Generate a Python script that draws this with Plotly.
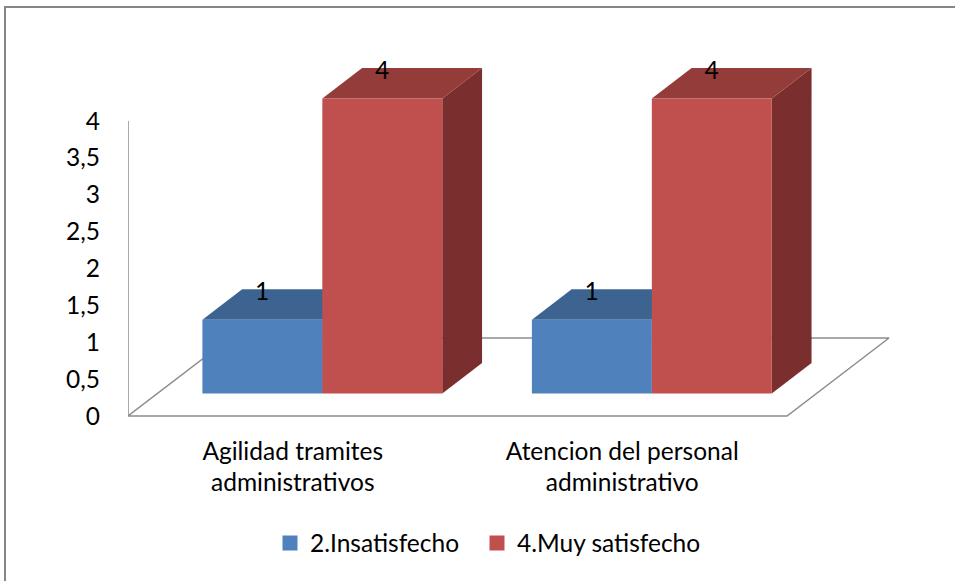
import plotly.graph_objects as go

# ---- data ----
categories = ["Agilidad tramites<br>administrativos", "Atencion del personal<br>administrativo"]
series_names = ["2.Insatisfecho", "4.Muy satisfecho"]
insatisfecho = [1, 1]
muy_satisfecho = [4, 4]
y_tick_vals = [0, 0.5, 1, 1.5, 2, 2.5, 3, 3.5, 4]
y_tick_text = ["0", "0,5", "1", "1,5", "2", "2,5", "3", "3,5", "4"]

series_values = [insatisfecho, muy_satisfecho]
front_colors = ["#4F81BD", "#C0504D"]
top_colors = ["#3D6490", "#943C3A"]
side_colors = ["#3A5F8C", "#7A2F2E"]

# ---- layout / projection constants ----
W, H = 955, 581
ML, MR, MT = 128, 20, 30
PX_X = 329.5                 # px per category unit
PX_Y = 73.75                 # px per value unit
y0_px = 416                  # pixel row of value 0 (floor front edge)
plot_bottom = y0_px + 4
MB = H - plot_bottom
PW = W - ML - MR
PH = H - MT - MB
ymin = -(plot_bottom - y0_px) / PX_Y
ymax = ymin + PH / PX_Y
DX = 102 / PX_X              # floor depth offset (x, category units)
DY = 78 / PX_Y               # floor depth offset (y, value units)
Z0, Z1 = 0.29, 0.68          # bar depth (front/back) as fraction of floor depth
GAP = 0.136
BW = (1 - 2 * GAP) / 2
FONT = "Lato"
FS = 24.5
legend_px = [270, 477]       # left pixel of each legend box
legend_names = ["legend", "legend2"]

fig = go.Figure()
ncat = len(categories)

# floor
fig.add_trace(go.Scatter(
    x=[0, ncat, ncat + DX, DX, 0], y=[0, 0, DY, DY, 0], mode="lines",
    line=dict(color="#8C8C8C", width=1.5), hoverinfo="skip", showlegend=False))
# vertical axis line
fig.add_trace(go.Scatter(
    x=[0, 0], y=[y_tick_vals[0], y_tick_vals[-1]], mode="lines",
    line=dict(color="#8C8C8C", width=1.5), hoverinfo="skip", showlegend=False))

label_x, label_y, label_t = [], [], []
for i in range(ncat):
    for j, vals in enumerate(series_values):
        v = vals[i]
        xl = i + GAP + j * BW
        xr = xl + BW
        # side face
        fig.add_trace(go.Scatter(
            x=[xr + Z0 * DX, xr + Z0 * DX, xr + Z1 * DX, xr + Z1 * DX, xr + Z0 * DX],
            y=[Z0 * DY, v + Z0 * DY, v + Z1 * DY, Z1 * DY, Z0 * DY],
            mode="lines", fill="toself", fillcolor=side_colors[j], line=dict(width=0),
            hoverinfo="skip", showlegend=False))
        # top face
        fig.add_trace(go.Scatter(
            x=[xl + Z0 * DX, xr + Z0 * DX, xr + Z1 * DX, xl + Z1 * DX, xl + Z0 * DX],
            y=[v + Z0 * DY, v + Z0 * DY, v + Z1 * DY, v + Z1 * DY, v + Z0 * DY],
            mode="lines", fill="toself", fillcolor=top_colors[j], line=dict(width=0),
            hoverinfo="skip", showlegend=False))
        # front face
        fig.add_trace(go.Scatter(
            x=[xl + Z0 * DX, xr + Z0 * DX, xr + Z0 * DX, xl + Z0 * DX, xl + Z0 * DX],
            y=[Z0 * DY, Z0 * DY, v + Z0 * DY, v + Z0 * DY, Z0 * DY],
            mode="lines", fill="toself", fillcolor=front_colors[j], line=dict(width=0),
            name=series_names[j],
            hovertemplate=f"{series_names[j]}: {v}<extra></extra>", showlegend=False))
        label_x.append(xl + Z1 * DX + 20 / PX_X)
        label_y.append(v + Z1 * DY - 0.07)
        label_t.append(str(v))

# data labels
fig.add_trace(go.Scatter(
    x=label_x, y=label_y, text=label_t, mode="text", textposition="middle center",
    textfont=dict(family=FONT, size=FS, color="#000000"), hoverinfo="skip", showlegend=False))

# legend entries (one legend box each, for exact spacing)
for j in range(len(series_names)):
    fig.add_trace(go.Scatter(
        x=[None], y=[None], mode="markers", name=series_names[j], legend=legend_names[j],
        marker=dict(symbol="square", size=15, color=front_colors[j]), showlegend=True))

# chart border
fig.add_shape(type="rect", xref="paper", yref="paper",
              x0=(5 - ML) / PW, x1=(W + 30 - ML) / PW,
              y0=-(H + 30 - MT - PH) / PH, y1=1 + (MT - 7) / PH,
              line=dict(color="#868686", width=2), fillcolor="rgba(0,0,0,0)", layer="below")

legend_common = dict(orientation="h", xanchor="left",
                     y=-(543 - plot_bottom) / PH, yanchor="middle",
                     font=dict(family=FONT, size=FS, color="#000000"),
                     itemwidth=30, bgcolor="rgba(0,0,0,0)")

fig.update_layout(
    width=W, height=H, autosize=False,
    margin=dict(l=ML, r=MR, t=MT, b=MB, pad=0),
    paper_bgcolor="white", plot_bgcolor="white",
    font=dict(family=FONT, size=FS, color="#000000"),
    showlegend=True,
    legend=dict(x=(legend_px[0] - ML) / PW, **legend_common),
    legend2=dict(x=(legend_px[1] - ML) / PW, **legend_common),
    xaxis=dict(range=[0, PW / PX_X], showgrid=False, zeroline=False, showline=False,
               tickmode="array", tickvals=[i + 0.5 for i in range(ncat)], ticktext=categories,
               ticks="", ticklabelstandoff=14, tickfont=dict(family=FONT, size=FS),
               fixedrange=True),
    yaxis=dict(range=[ymin, ymax], showgrid=False, zeroline=False, showline=False,
               tickmode="array", tickvals=y_tick_vals, ticktext=y_tick_text,
               ticks="", ticklabelstandoff=27, tickfont=dict(family=FONT, size=FS),
               fixedrange=True),
)

fig.write_html("out.html", config={"displayModeBar": False},
               post_script="document.body.style.margin='0';")
